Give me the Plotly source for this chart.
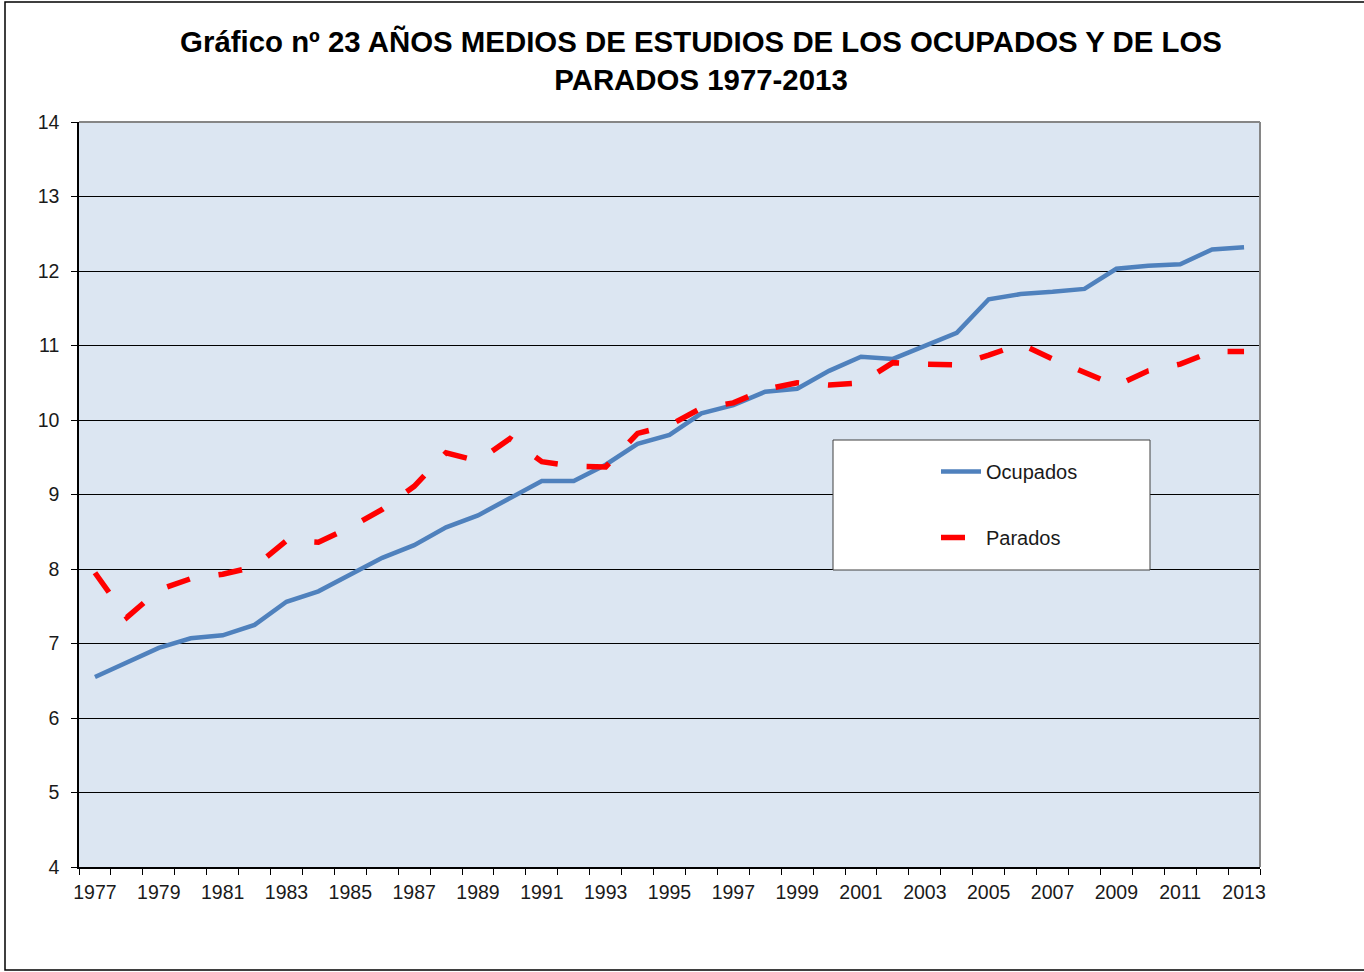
import plotly.graph_objects as go

years = list(range(1977, 2014))
ocupados = [6.55, 6.75, 6.94, 7.07, 7.11, 7.25, 7.56, 7.70, 7.92, 8.15,
            8.32, 8.56, 8.72, 8.95, 9.18, 9.18, 9.40, 9.68, 9.80, 10.09,
            10.20, 10.38, 10.42, 10.66, 10.85, 10.82, 10.99, 11.17, 11.62, 11.69,
            11.72, 11.76, 12.03, 12.07, 12.09, 12.29, 12.32]
parados = [7.95, 7.35, 7.72, 7.87, 7.93, 8.03, 8.38, 8.36, 8.56, 8.80,
           9.11, 9.56, 9.45, 9.75, 9.44, 9.38, 9.37, 9.82, 9.93, 10.16,
           10.23, 10.41, 10.50, 10.47, 10.50, 10.77, 10.75, 10.74, 10.87, 11.02,
           10.82, 10.63, 10.46, 10.66, 10.75, 10.92, 10.92]
label_years = years[::2]
title_text = "Gráfico nº 23 AÑOS MEDIOS DE ESTUDIOS DE LOS OCUPADOS Y DE LOS<br>PARADOS 1977-2013"

W, H = 1364, 972
ML, MR, MT, MB = 79, 104, 122, 105
PW = W - ML - MR
PH = H - MT - MB


def px_x(p):
    return (p - ML) / PW


def px_y(p):
    return (H - MB - p) / PH


fig = go.Figure()
fig.add_trace(go.Scatter(x=years, y=ocupados, name="Ocupados", mode="lines",
                         legendgroup="a",
                         line=dict(color="#4F81BD", width=4.5)))
fig.add_trace(go.Scatter(x=years, y=parados, name="Parados", mode="lines",
                         legendgroup="b",
                         line=dict(color="#FF0000", width=5.5, dash="24px,29px")))

shapes = [
    # outer chart border
    dict(type="rect", xref="paper", yref="paper", x0=px_x(5), x1=px_x(1372),
         y0=px_y(970), y1=px_y(2), line=dict(color="#000000", width=1.5),
         fillcolor="rgba(0,0,0,0)", layer="below"),
    # top and right plot border (gray)
    dict(type="line", xref="paper", yref="paper", x0=0, x1=1, y0=1, y1=1,
         line=dict(color="#868686", width=2), layer="above"),
    dict(type="line", xref="paper", yref="paper", x0=1, x1=1, y0=0, y1=1,
         line=dict(color="#868686", width=2), layer="above"),
    # legend box
    dict(type="rect", xref="paper", yref="paper", x0=px_x(833), x1=px_x(1150),
         y0=px_y(570), y1=px_y(440), line=dict(color="#404040", width=1),
         fillcolor="#FFFFFF", layer="above"),
]

fig.update_layout(
    width=W, height=H,
    margin=dict(l=ML, r=MR, t=MT, b=MB),
    paper_bgcolor="#FFFFFF",
    plot_bgcolor="#DCE6F2",
    font=dict(family="Liberation Sans, Arial, sans-serif", color="#1a1a1a", size=19),
    title=dict(text="<b>" + title_text + "</b>", x=701 / W, xanchor="center",
               y=1 - 52 / H, yanchor="top", yref="container",
               font=dict(size=29.4, color="#000000")),
    showlegend=True,
    legend=dict(x=px_x(936), y=px_y(452), xanchor="left", yanchor="top",
                bgcolor="rgba(0,0,0,0)", borderwidth=0, tracegroupgap=37,
                font=dict(size=20, color="#1a1a1a"), itemwidth=40),
    shapes=shapes,
)

fig.update_xaxes(
    range=[1976.5, 2013.5], tickmode="array", tickvals=label_years,
    ticktext=[str(y) for y in label_years], ticks="", showgrid=False,
    showline=True, linecolor="#000000", linewidth=1.5,
    tickfont=dict(size=19.5, color="#1a1a1a"), ticklabelstandoff=7,
    minor=dict(tickmode="array", tickvals=[y - 0.5 for y in years] + [2013.5],
               ticks="outside", ticklen=6, tickcolor="#000000", tickwidth=1, showgrid=False),
    zeroline=False,
)
fig.update_yaxes(
    range=[4, 14], dtick=1, tick0=4, showgrid=True, gridcolor="#000000", gridwidth=1,
    showline=True, linecolor="#000000", linewidth=1.5, ticks="outside", ticklen=6,
    tickcolor="#000000", tickfont=dict(size=19.5, color="#1a1a1a"), zeroline=False,
    ticklabelstandoff=8,
)

fig.write_html("out.html", config={"displayModeBar": False},
               post_script="document.body.style.margin='0px';")
